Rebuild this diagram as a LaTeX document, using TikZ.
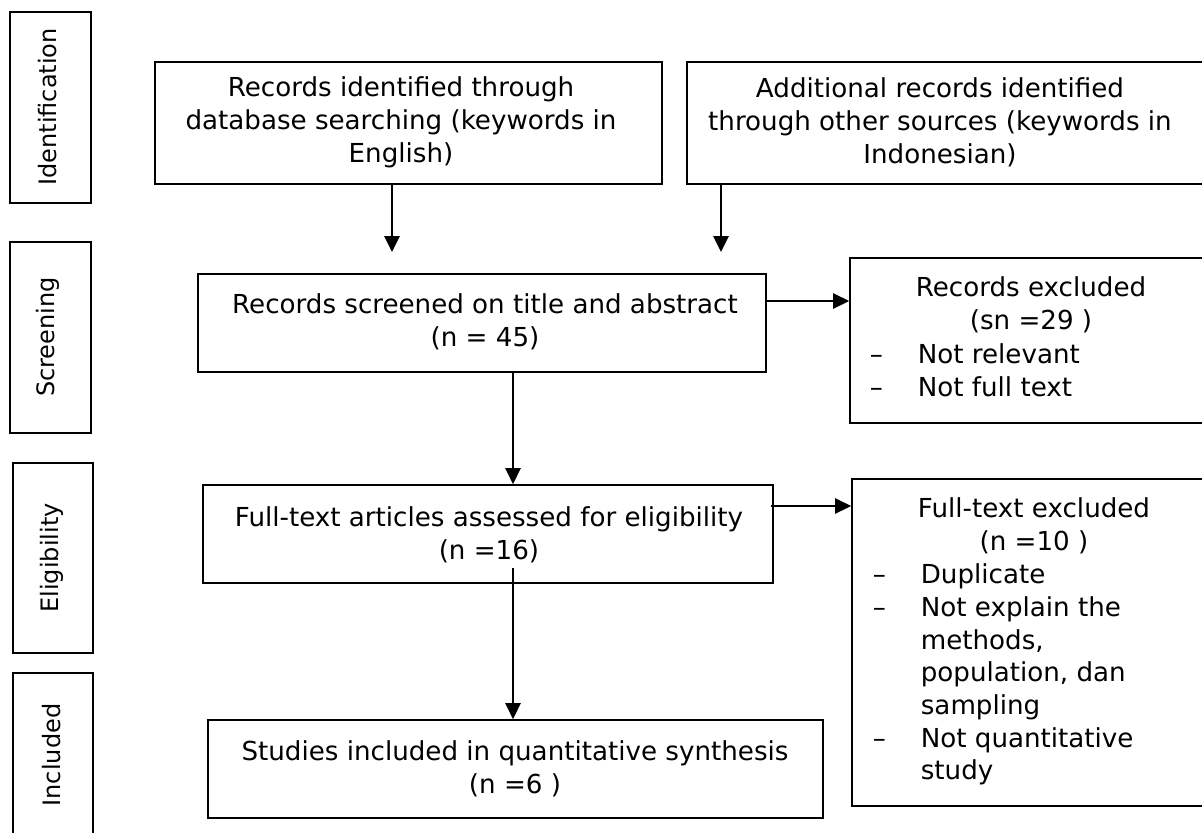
\documentclass[tikz,border=0pt]{standalone}
\usepackage{fontspec}
\setmainfont{DejaVu Sans}
\usetikzlibrary{arrows.meta,fit,positioning}

\newlength{\dashind}
\setlength{\dashind}{36pt}

\tikzset{every picture/.style={line width=1.3pt}}
\tikzset{
  box/.style={draw, rectangle, inner sep=0pt},
  txt/.style={inner sep=0pt, align=center, font=\fontsize{19.6}{24.75}\selectfont},
  lst/.style={inner sep=0pt, align=left, anchor=north west, font=\fontsize{19.6}{24.5}\selectfont},
  stagetxt/.style={inner sep=0pt, rotate=90, font=\fontsize{18}{22}\selectfont},
  arr/.style={-{Triangle[length=12pt,width=11.5pt]}, line width=1.2pt}
}

\begin{document}
\begin{tikzpicture}[x=0.75pt,y=0.75pt,yscale=-1,xscale=1]
\useasboundingbox (0,0) rectangle (1202,832);
\clip (0,0) rectangle (1202,832);

% stage boxes on the left
\node [box, fit={(10,12) (91,203)}] (sid) {};
\node [box, fit={(10,242) (91,433)}] (sscr) {};
\node [box, fit={(13,463) (93,653)}] (selig) {};
\node [box, fit={(13,673) (93,838)}] (sincl) {};
\node [stagetxt] (sidtxt) at (48,107) {Identification};
\node [stagetxt] (sscrtxt) at (48,337) {Screening};
\node [stagetxt] (seligtxt) at (52,558) {Eligibility};
\node [stagetxt] (sincltxt) at (52,755) {Included};

% flow boxes
\node [box, fit={(155,62) (662,184)}] (ida) {};
\node [box, fit={(687,62) (1215,184)}] (idb) {};
\node [box, fit={(198,274) (766,372)}] (scr) {};
\node [box, fit={(850,258) (1215,423)}] (excla) {};
\node [box, fit={(203,485) (773,583)}] (elig) {};
\node [box, fit={(852,479) (1215,806)}] (exclb) {};
\node [box, fit={(208,720) (823,818)}] (incl) {};

% texts
\node [txt] (idatxt) at (401,122) {Records identified through\\database searching (keywords in\\English)};
\node [txt] (idbtxt) at (940,122) {Additional records identified\\through other sources (keywords in\\Indonesian)};
\node [txt] (scrtxt) at (485,322) {Records screened on title and abstract\\(n = 45)};
\node [txt] (eligtxt) at (489,535) {Full-text articles assessed for eligibility\\(n =16)};
\node [txt] (incltxt) at (515,769) {Studies included in quantitative synthesis\\(n =6 )};
\node [txt] (exclatxt) at (1031,305) {Records excluded\\(sn =29 )};
\node [lst] (exclalst) at (869,343) {\makebox[\dashind][l]{–}Not relevant\\\makebox[\dashind][l]{–}Not full text};
\node [txt] (exclbtxt) at (1034,526) {Full-text excluded\\(n =10 )};
\node [lst] (exclblst) at (872,563) {\makebox[\dashind][l]{–}Duplicate\\\makebox[\dashind][l]{–}Not explain the\\\hspace*{\dashind}methods,\\\hspace*{\dashind}population, dan\\\hspace*{\dashind}sampling\\\makebox[\dashind][l]{–}Not quantitative\\\hspace*{\dashind}study};

% connectors
\coordinate (idatip) at (392,252);
\coordinate (idbtip) at (721,252);
\coordinate (scrright) at (766,301);
\coordinate (scrdown) at (513,372);
\coordinate (eligright) at (771,506);
\coordinate (eligdown) at (513,568);
\draw [arr] (ida.south -| idatip) -- (idatip);
\draw [arr] (idb.south -| idbtip) -- (idbtip);
\draw [arr] (scrright) -- (excla.west |- scrright);
\draw [arr] (scr.south -| scrdown) -- (elig.north -| scrdown);
\draw [arr] (eligright) -- (exclb.west |- eligright);
\draw [arr] (eligdown) -- (incl.north -| eligdown);

\end{tikzpicture}
\end{document}
